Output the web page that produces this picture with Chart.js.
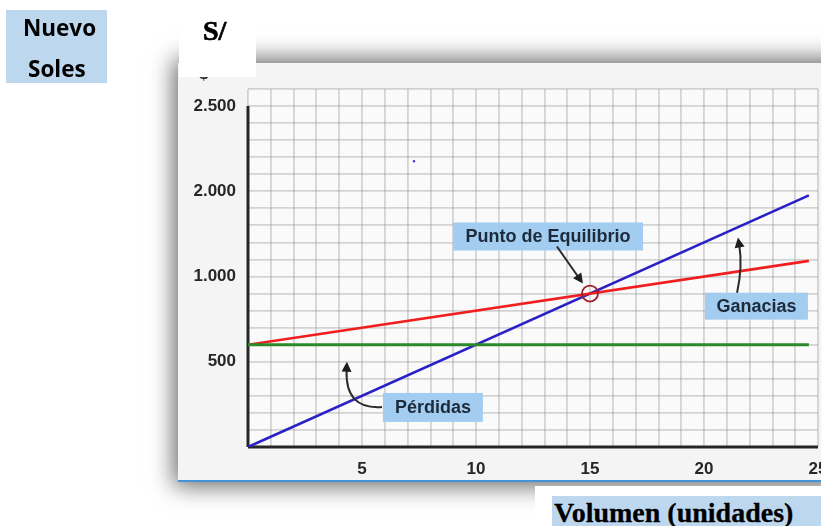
<!DOCTYPE html>
<html>
<head>
<meta charset="utf-8">
<script src="https://cdn.jsdelivr.net/npm/chart.js@4.4.0/dist/chart.umd.min.js"></script>
<style>
  html, body { margin:0; padding:0; width:821px; height:526px; overflow:hidden; background:#fff; position:relative; }
  #pic { position:absolute; left:178px; top:63px; width:700px; height:417px; background:#f4f4f4;
         border-bottom:2px solid #4592d6; box-shadow:0 0 22px 4px rgba(0,0,0,0.6); }
  #wrap { position:absolute; left:178px; top:63px; width:700px; height:430px; }
  #dollar { position:absolute; left:199px; top:64px; font-family:"Liberation Sans", Arial, sans-serif; font-weight:700; font-size:17px; color:#333; }
  #sbox { position:absolute; left:179px; top:0; width:77px; height:77px; background:#fff; }
  #stext { position:absolute; left:203px; top:17px; font-family:"Liberation Serif", "Times New Roman", serif; font-weight:700; font-size:28px; line-height:1; color:#000; -webkit-text-stroke:0.7px #000; }
  #nuevo { position:absolute; left:6px; top:10px; width:101px; height:73px; background:#bdd7ee; }
  .ns { position:absolute; font-family:"Open Sans", sans-serif; font-weight:700; font-size:22.5px; line-height:1; color:#000; }
  #white2 { position:absolute; left:535px; top:486px; width:300px; height:50px; background:#fff; }
  #vol { position:absolute; left:552px; top:496px; width:290px; height:30px; background:#bdd7ee; }
  #voltext { position:absolute; left:554px; top:499px; font-family:"Liberation Serif", "Times New Roman", serif; font-weight:700; font-size:28px; line-height:1; color:#000; white-space:nowrap; -webkit-text-stroke:0.3px #000; }
</style>
</head>
<body>
<div id="pic"></div>
<div id="wrap"><canvas id="c"></canvas></div>
<div id="dollar">$</div>
<div id="sbox"></div>
<div id="stext">S/</div>
<div id="nuevo"></div>
<div class="ns" style="left:23px; top:17px;">Nuevo</div>
<div class="ns" style="left:28px; top:58px;">Soles</div>
<div id="white2"></div>
<div id="vol"></div>
<div id="voltext">Volumen (unidades)</div>
<script>
// ---- data ----
const volumen    = [0, 24.6];
const ingresos   = [0, 1476];
const costoTotal = [600, 1092];
const costoFijo  = [600, 600];
const xTickValues = [5, 10, 15, 20, 25];
const xTickLabels = ['5', '10', '15', '20', '25'];
const yTickValues = [500, 1000, 1500, 2000];
const yTickLabels = ['500', '1.000', '2.000', '2.500'];
const puntoEquilibrio = { x: 15, y: 900 };

// ---- annotations (data coordinates) ----
const notas = [
  { text: 'Punto de Equilibrio', x: 13.16, y: 1235, w: 190, h: 28 },
  { text: 'Ganacias',            x: 22.3,  y: 826,  w: 103, h: 27 },
  { text: 'Pérdidas',            x: 8.11,  y: 232,  w: 100, h: 29 }
];
const flechas = [
  { from: [13.55, 1176], ctrl: [14.12, 1067], to: [14.69, 959] },
  { from: [21.45, 905],  ctrl: [21.7, 1060],  to: [21.49, 1229] },
  { from: [5.88, 235],   ctrl: [4.25, 218],   to: [4.34, 500] }
];
const puntito = { x: 7.28, y: 1676 };

const toXY = (xs, ys) => xs.map((v, i) => ({ x: v, y: ys[i] }));

const annotPlugin = {
  id: 'annotPlugin',
  beforeDraw(chart) {
    const { ctx, chartArea: a } = chart;
    ctx.save();
    ctx.fillStyle = '#fafafa';
    ctx.fillRect(a.left, a.top, a.right - a.left, a.bottom - a.top);
    ctx.restore();
  },
  beforeDatasetsDraw(chart) {
    const { ctx, scales: { x, y } } = chart;
    ctx.save();
    ctx.strokeStyle = '#262626';
    ctx.lineWidth = 3;
    ctx.beginPath();
    ctx.moveTo(x.getPixelForValue(0), y.getPixelForValue(0));
    ctx.lineTo(x.getPixelForValue(25), y.getPixelForValue(0));
    ctx.stroke();
    ctx.beginPath();
    ctx.moveTo(x.getPixelForValue(0), y.getPixelForValue(0));
    ctx.lineTo(x.getPixelForValue(0), y.getPixelForValue(2000));
    ctx.stroke();
    ctx.restore();
  },
  afterDatasetsDraw(chart) {
    const { ctx, scales: { x, y } } = chart;
    const px = v => x.getPixelForValue(v);
    const py = v => y.getPixelForValue(v);
    ctx.save();
    ctx.strokeStyle = '#9e1d2b';
    ctx.lineWidth = 1.8;
    ctx.beginPath();
    ctx.arc(px(puntoEquilibrio.x), py(puntoEquilibrio.y), 8, 0, Math.PI * 2);
    ctx.stroke();
    ctx.font = 'bold 18px "Liberation Sans", Arial, sans-serif';
    ctx.textAlign = 'center';
    ctx.textBaseline = 'middle';
    notas.forEach(n => {
      const cx = px(n.x), cy = py(n.y);
      ctx.fillStyle = '#a2cdf0';
      ctx.fillRect(cx - n.w / 2, cy - n.h / 2, n.w, n.h);
      ctx.fillStyle = '#1c2a3a';
      ctx.fillText(n.text, cx, cy + 1);
    });
    ctx.strokeStyle = '#2a2a2a';
    ctx.fillStyle = '#1e1e1e';
    ctx.lineWidth = 2;
    flechas.forEach(f => {
      const x0 = px(f.from[0]), y0 = py(f.from[1]);
      const cx = px(f.ctrl[0]), cy = py(f.ctrl[1]);
      const x1 = px(f.to[0]), y1 = py(f.to[1]);
      const ang = Math.atan2(y1 - cy, x1 - cx);
      const L = 10, W = 5;
      const bx = x1 - Math.cos(ang) * L, by = y1 - Math.sin(ang) * L;
      ctx.beginPath();
      ctx.moveTo(x0, y0);
      ctx.quadraticCurveTo(cx, cy, bx + Math.cos(ang) * 2, by + Math.sin(ang) * 2);
      ctx.stroke();
      ctx.beginPath();
      ctx.moveTo(x1, y1);
      ctx.lineTo(bx + Math.sin(ang) * W, by - Math.cos(ang) * W);
      ctx.lineTo(bx - Math.sin(ang) * W, by + Math.cos(ang) * W);
      ctx.closePath();
      ctx.fill();
    });
    ctx.fillStyle = '#3b3bd0';
    ctx.beginPath();
    ctx.arc(px(puntito.x), py(puntito.y), 1.2, 0, Math.PI * 2);
    ctx.fill();
    ctx.restore();
  }
};

const tickFont = { family: '"Liberation Sans", Arial, sans-serif', size: 17, weight: 'bold' };
const gridColor = 'rgba(150,150,150,0.38)';

new Chart(document.getElementById('c'), {
  type: 'line',
  data: {
    datasets: [
      { label: 'Costo fijo', data: toXY(volumen, costoFijo), borderColor: '#2a8a2a', borderWidth: 3, pointRadius: 0, tension: 0 },
      { label: 'Costo total', data: toXY(volumen, costoTotal), borderColor: '#f01e1e', borderWidth: 2.6, pointRadius: 0, tension: 0 },
      { label: 'Ingresos', data: toXY(volumen, ingresos), borderColor: '#2a20c6', borderWidth: 2.6, pointRadius: 0, tension: 0 }
    ]
  },
  options: {
    responsive: true,
    maintainAspectRatio: false,
    animation: false,
    layout: { padding: { left: 0, top: 26, right: 60, bottom: 0 } },
    plugins: { legend: { display: false }, tooltip: { enabled: false } },
    scales: {
      x: {
        type: 'linear',
        min: 0, max: 25,
        border: { display: false },
        grid: { color: gridColor, lineWidth: 1.8, drawTicks: false },
        ticks: {
          stepSize: 1, autoSkip: false, maxRotation: 0, padding: 12,
          color: '#262626', font: tickFont,
          callback: v => { const i = xTickValues.indexOf(v); return i >= 0 ? xTickLabels[i] : ''; }
        },
        afterFit: s => { s.height = 46; }
      },
      y: {
        type: 'linear',
        min: 0, max: 2100,
        border: { display: false },
        grid: { color: gridColor, lineWidth: 1.8, drawTicks: false },
        ticks: {
          stepSize: 100, autoSkip: false, padding: 12,
          color: '#262626', font: tickFont,
          callback: v => { const i = yTickValues.indexOf(v); return i >= 0 ? yTickLabels[i] : ''; }
        },
        afterFit: s => { s.width = 70; }
      }
    }
  },
  plugins: [annotPlugin]
});
</script>
</body>
</html>
